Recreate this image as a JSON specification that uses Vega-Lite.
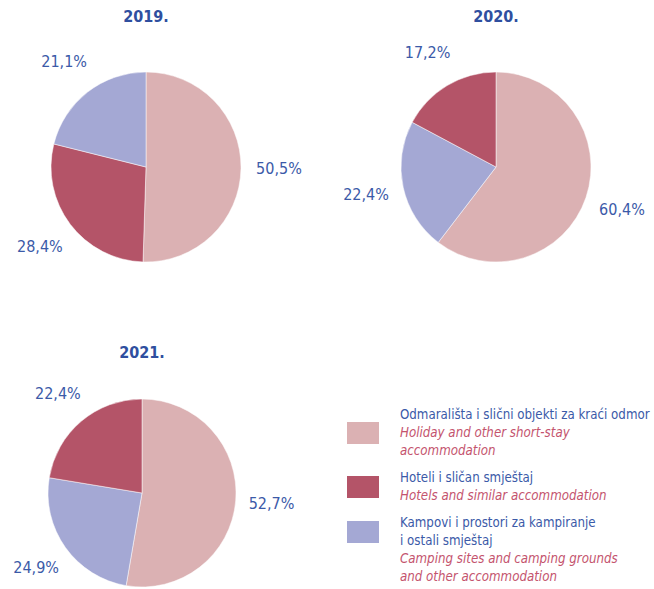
{
  "$schema": "https://vega.github.io/schema/vega-lite/v6.json",
  "padding": {"left": 0, "top": 9, "right": 0, "bottom": 0},
  "background": "#ffffff",
  "config": {
    "view": {"stroke": null},
    "font": "Liberation Sans Narrow, Arial Narrow, DejaVu Sans Condensed, sans-serif",
    "title": {"fontSize": 16, "fontWeight": "bold", "color": "#2f4f9f", "font": "Liberation Sans Narrow, Arial Narrow, DejaVu Sans Condensed, sans-serif", "anchor": "middle"}
  },
  "datasets": {
    "shares": [
      {"year": 2019, "cat": "holiday", "ord": 1, "value": 50.5},
      {"year": 2019, "cat": "hotels", "ord": 2, "value": 28.4},
      {"year": 2019, "cat": "camping", "ord": 3, "value": 21.1},
      {"year": 2020, "cat": "holiday", "ord": 1, "value": 60.4},
      {"year": 2020, "cat": "camping", "ord": 2, "value": 22.4},
      {"year": 2020, "cat": "hotels", "ord": 3, "value": 17.2},
      {"year": 2021, "cat": "holiday", "ord": 1, "value": 52.7},
      {"year": 2021, "cat": "camping", "ord": 2, "value": 24.9},
      {"year": 2021, "cat": "hotels", "ord": 3, "value": 22.4}
    ],
    "legendText": [
      {"cat": "holiday", "line": 0, "lang": "hr", "text": "Odmarališta i slični objekti za kraći odmor"},
      {"cat": "holiday", "line": 1, "lang": "en", "text": "Holiday and other short-stay"},
      {"cat": "holiday", "line": 2, "lang": "en", "text": "accommodation"},
      {"cat": "hotels", "line": 3.5, "lang": "hr", "text": "Hoteli i sličan smještaj"},
      {"cat": "hotels", "line": 4.5, "lang": "en", "text": "Hotels and similar accommodation"},
      {"cat": "camping", "line": 6, "lang": "hr", "text": "Kampovi i prostori za kampiranje"},
      {"cat": "camping", "line": 7, "lang": "hr", "text": "i ostali smještaj"},
      {"cat": "camping", "line": 8, "lang": "en", "text": "Camping sites and camping grounds"},
      {"cat": "camping", "line": 9, "lang": "en", "text": "and other accommodation"}
    ],
    "legendSwatch": [
      {"cat": "holiday", "line": 1},
      {"cat": "hotels", "line": 4},
      {"cat": "camping", "line": 6.5}
    ]
  },
  "vconcat": [
    {
      "hconcat": [
        {
          "width": 292, "height": 264,
          "title": {"text": "2019.", "offset": 10},
          "data": {"name": "shares"},
          "transform": [
            {"filter": "datum.year == 2019"},
            {"calculate": "replace(format(datum.value, '.1f'), '.', ',') + '%'", "as": "label"}
          ],
          "encoding": {
            "theta": {"field": "value", "type": "quantitative", "stack": true},
            "order": {"field": "ord", "type": "quantitative"}
          },
          "layer": [
            {"mark": {"type": "arc", "outerRadius": 95, "stroke": "#ffffff", "strokeWidth": 0.5},
             "encoding": {"color": {"field": "cat", "type": "nominal", "scale": {"domain": ["holiday", "hotels", "camping"], "range": ["#dbb1b3", "#b45468", "#a4a8d4"]}, "legend": null}}},
            {"mark": {"type": "text", "radius": 133, "fontSize": 16, "color": "#3b5aa8", "align": "center", "baseline": "middle"},
             "encoding": {"text": {"field": "label", "type": "nominal"}}}
          ]
        },
        {
          "width": 314, "height": 264,
          "title": {"text": "2020.", "offset": 10},
          "data": {"name": "shares"},
          "transform": [
            {"filter": "datum.year == 2020"},
            {"calculate": "replace(format(datum.value, '.1f'), '.', ',') + '%'", "as": "label"}
          ],
          "encoding": {
            "theta": {"field": "value", "type": "quantitative", "stack": true},
            "order": {"field": "ord", "type": "quantitative"}
          },
          "layer": [
            {"mark": {"type": "arc", "outerRadius": 95, "stroke": "#ffffff", "strokeWidth": 0.5},
             "encoding": {"color": {"field": "cat", "type": "nominal", "scale": {"domain": ["holiday", "hotels", "camping"], "range": ["#dbb1b3", "#b45468", "#a4a8d4"]}, "legend": null}}},
            {"mark": {"type": "text", "radius": 133, "fontSize": 16, "color": "#3b5aa8", "align": "center", "baseline": "middle"},
             "encoding": {"text": {"field": "label", "type": "nominal"}}}
          ]
        }
      ],
      "spacing": 37
    },
    {
      "hconcat": [
        {
          "width": 284, "height": 188,
          "title": {"text": "2021.", "offset": 25},
          "data": {"name": "shares"},
          "transform": [
            {"filter": "datum.year == 2021"},
            {"calculate": "replace(format(datum.value, '.1f'), '.', ',') + '%'", "as": "label"}
          ],
          "encoding": {
            "theta": {"field": "value", "type": "quantitative", "stack": true},
            "order": {"field": "ord", "type": "quantitative"}
          },
          "layer": [
            {"mark": {"type": "arc", "outerRadius": 94, "stroke": "#ffffff", "strokeWidth": 0.5},
             "encoding": {"color": {"field": "cat", "type": "nominal", "scale": {"domain": ["holiday", "hotels", "camping"], "range": ["#dbb1b3", "#b45468", "#a4a8d4"]}, "legend": null}}},
            {"mark": {"type": "text", "radius": 130, "fontSize": 16, "color": "#3b5aa8", "align": "center", "baseline": "middle"},
             "encoding": {"text": {"field": "label", "type": "nominal"}}}
          ]
        },
        {
          "width": 314, "height": 188,
          "layer": [
            {
              "data": {"name": "legendSwatch"},
              "mark": {"type": "point", "shape": "M-1,-0.6875H1V0.6875H-1Z", "filled": true, "size": 1024, "opacity": 1},
              "encoding": {
                "x": {"datum": "swatch", "type": "ordinal", "scale": {"domain": ["swatch", "text"], "range": [25, 62], "padding": 0}, "axis": null},
                "y": {"field": "line", "type": "quantitative", "scale": {"domain": [0, 9], "range": [16, 178]}, "axis": null},
                "color": {"field": "cat", "type": "nominal", "scale": {"domain": ["holiday", "hotels", "camping"], "range": ["#dbb1b3", "#b45468", "#a4a8d4"]}, "legend": null}
              }
            },
            {
              "data": {"name": "legendText"},
              "transform": [{"filter": "datum.lang == 'hr'"}],
              "mark": {"type": "text", "align": "left", "baseline": "middle", "fontSize": 13.2, "color": "#3b5aa8"},
              "encoding": {
                "x": {"datum": "text", "type": "ordinal", "scale": {"domain": ["swatch", "text"], "range": [25, 62], "padding": 0}, "axis": null},
                "y": {"field": "line", "type": "quantitative", "scale": {"domain": [0, 9], "range": [16, 178]}, "axis": null},
                "text": {"field": "text", "type": "nominal"}
              }
            },
            {
              "data": {"name": "legendText"},
              "transform": [{"filter": "datum.lang == 'en'"}],
              "mark": {"type": "text", "align": "left", "baseline": "middle", "fontSize": 13.2, "fontStyle": "italic", "color": "#c4546e"},
              "encoding": {
                "x": {"datum": "text", "type": "ordinal", "scale": {"domain": ["swatch", "text"], "range": [25, 62], "padding": 0}, "axis": null},
                "y": {"field": "line", "type": "quantitative", "scale": {"domain": [0, 9], "range": [16, 178]}, "axis": null},
                "text": {"field": "text", "type": "nominal"}
              }
            }
          ]
        }
      ],
      "spacing": 43
    }
  ],
  "spacing": 45
}
